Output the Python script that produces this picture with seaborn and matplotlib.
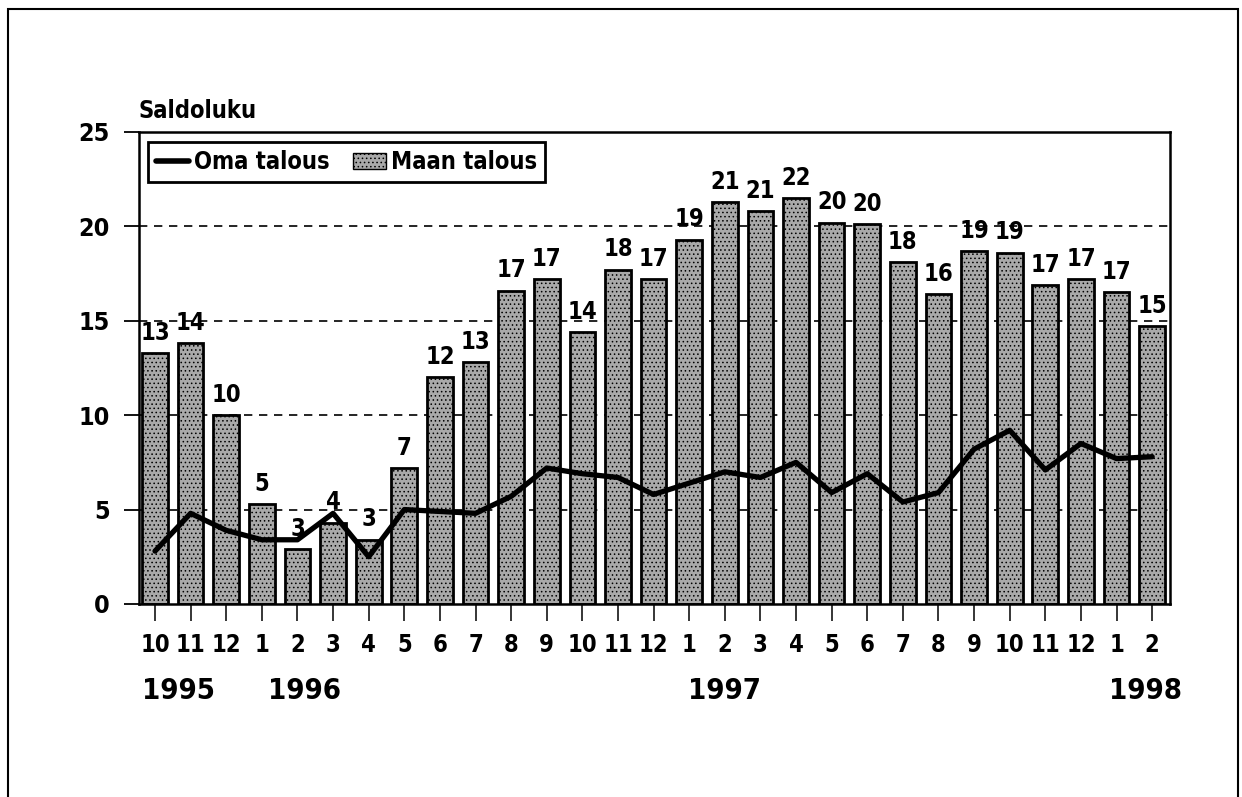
import matplotlib.pyplot as plt
import numpy as np
import seaborn as sns
from matplotlib.lines import Line2D
from matplotlib.patches import Patch, Rectangle

# data (10/1995 - 2/1998)
months = ["10", "11", "12", "1", "2", "3", "4", "5", "6", "7", "8", "9",
          "10", "11", "12", "1", "2", "3", "4", "5", "6", "7", "8", "9",
          "10", "11", "12", "1", "2"]
maan_talous = [13.3, 13.8, 10.0, 5.3, 2.9, 4.3, 3.4, 7.2, 12.0, 12.8, 16.6, 17.2,
               14.4, 17.7, 17.2, 19.3, 21.3, 20.8, 21.5, 20.2, 20.1, 18.1, 16.4, 18.7,
               18.6, 16.9, 17.2, 16.5, 14.7]
bar_labels = ["13", "14", "10", "5", "3", "4", "3", "7", "12", "13", "17", "17",
              "14", "18", "17", "19", "21", "21", "22", "20", "20", "18", "16", "19",
              "19", "17", "17", "17", "15"]
oma_talous = [2.8, 4.8, 3.9, 3.4, 3.4, 4.8, 2.5, 5.0, 4.9, 4.8, 5.7, 7.2,
              6.9, 6.7, 5.8, 6.4, 7.0, 6.7, 7.5, 5.9, 6.9, 5.4, 5.9, 8.2,
              9.2, 7.1, 8.5, 7.7, 7.8]
years = ["1995", "1996", "1997", "1998"]
year_x = [0.65, 4.2, 16.0, 27.8]

sns.set_theme(style="white")
plt.rcParams["font.family"] = ["DejaVu Sans", "Liberation Sans"]
plt.rcParams["font.stretch"] = "condensed"
plt.rcParams["font.weight"] = "bold"
plt.rcParams["text.color"] = "black"
plt.rcParams["hatch.linewidth"] = 0.6
plt.rcParams["hatch.color"] = "#333333"

BAR_GREY = "#a9a9a9"
idx = np.arange(len(months))

fig = plt.figure(figsize=(12.42, 7.97), dpi=100)
ax = fig.add_axes([0.1119, 0.2422, 0.8301, 0.5922])

# dashed grid behind the bars
for v in [5, 10, 15, 20]:
    ax.axhline(v, color="black", lw=1.2, dashes=(5, 4), zorder=0)

sns.barplot(x=idx, y=maan_talous, color=BAR_GREY, width=0.72, errorbar=None,
            edgecolor="black", linewidth=2, saturation=1, ax=ax, zorder=2)
for p in ax.patches:
    p.set_hatch("....")
ax.bar_label(ax.containers[0], labels=bar_labels, padding=6, fontsize=17,
             fontweight="bold", color="black", zorder=4)

sns.lineplot(x=idx, y=oma_talous, color="black", lw=3.8, ax=ax, zorder=3)

ax.set_xlim(-0.45, 28.5)
ax.set_ylim(0, 25)
ax.set_yticks([0, 5, 10, 15, 20, 25])
ax.set_xticks(idx)
ax.set_xticklabels(months)
ax.tick_params(axis="y", direction="out", length=11, width=1.3, labelsize=18,
               pad=10, left=True, colors="black")
ax.tick_params(axis="x", direction="out", length=12, width=1.1, labelsize=17,
               pad=9, bottom=True, colors="black")
ax.set_xlabel("")
ax.set_ylabel("")
for s in ax.spines.values():
    s.set_color("black")
    s.set_linewidth(1.8)

for y, x in zip(years, year_x):
    ax.text(x, -0.184, y, transform=ax.get_xaxis_transform(), ha="center",
            va="center", fontsize=21, fontweight="bold", color="black")

ax.text(0, 1.03, "Saldoluku", transform=ax.transAxes, ha="left",
        va="baseline", fontsize=17, fontweight="bold", color="black")

handles = [
    Line2D([0], [0], color="black", lw=4),
    Patch(facecolor=BAR_GREY, edgecolor="black", hatch="....", lw=1),
]
leg = ax.legend(handles, ["Oma talous", "Maan talous"], ncol=2,
                loc="upper left", bbox_to_anchor=(0.0087, 0.979),
                borderaxespad=0, fancybox=False, frameon=True,
                prop={"size": 17, "weight": "bold", "stretch": "condensed"},
                handlelength=1.4, handletextpad=0.2, columnspacing=1.0,
                borderpad=0.35)
leg.get_frame().set_edgecolor("black")
leg.get_frame().set_linewidth(2)
leg.get_frame().set_alpha(1)

# outer frame around the whole picture
fig.add_artist(Rectangle((0.0064, -0.02), 0.9904, 1.0087, transform=fig.transFigure,
                         fill=False, lw=1.5, edgecolor="black"))

fig.savefig("out.png", dpi=100)
